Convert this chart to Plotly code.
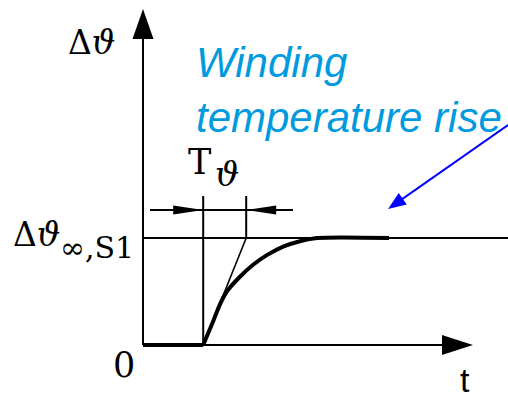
import plotly.graph_objects as go

# Heating curve of the winding after switching on (S1 duty):
# time in units of the thermal time constant T_theta,
# temperature rise in units of the final value.
t_on = 1.4
t_const = 1.0
rise_final = 1.0

time = [0.0, 1.40, 1.63, 1.79, 1.95, 2.26, 2.56, 2.88, 3.26, 3.65, 4.05, 5.72]
rise = [0.0, 0.00, 0.22, 0.38, 0.50, 0.64, 0.75, 0.84, 0.92, 0.97, 1.00, 1.00]

W, H = 508, 398
x_range = [-3.3256, 8.4884]
y_range = [-0.4953, 3.2243]
sx = W / (x_range[1] - x_range[0])   # px per time unit
sy = H / (y_range[1] - y_range[0])   # px per rise unit

BLACK = "#000000"
BLUE_TXT = "rgb(0,155,222)"
BLUE_ARROW = "rgb(0,0,255)"


def head(tx, ty, dx, dy, length, half):
    """Filled arrow head (SVG path in data units); (dx, dy) is the pointing
    direction in screen pixels (y down), length/half are in pixels."""
    n = (dx * dx + dy * dy) ** 0.5
    ux, uy = dx / n, dy / n
    bx, by = -ux * length, -uy * length
    px, py = -uy * half, ux * half
    pts = [(0, 0), (bx + px, by + py), (bx - px, by - py)]
    coords = [(tx + p[0] / sx, ty - p[1] / sy) for p in pts]
    return "M {} {} L {} {} L {} {} Z".format(*[c for xy in coords for c in xy])


fig = go.Figure()

# heating curve: flat part before switching on, then the exponential rise
k = time.index(t_on)
fig.add_trace(go.Scatter(x=time[:k + 1], y=rise[:k + 1], mode="lines",
                         line=dict(color=BLACK, width=4), hoverinfo="skip"))
fig.add_trace(go.Scatter(x=time[k:], y=rise[k:], mode="lines",
                         line=dict(color=BLACK, width=4, shape="spline", smoothing=0.8),
                         hoverinfo="skip"))

shapes = []
line_thin = dict(color=BLACK, width=2)
y_tip = 3.14
x_tip = 7.674
y_dim = 1.262
y_top = 1.393

# axes
shapes.append(dict(type="line", x0=0, y0=0, x1=0, y1=y_tip - 20 / sy, line=line_thin))
shapes.append(dict(type="line", x0=0, y0=0, x1=x_tip - 20 / sx, y1=0, line=line_thin))
shapes.append(dict(type="path", path=head(0, y_tip, 0, -1, 30, 10.5),
                   fillcolor=BLACK, line=dict(width=0)))
shapes.append(dict(type="path", path=head(x_tip, 0, 1, 0, 31, 10),
                   fillcolor=BLACK, line=dict(width=0)))

# final temperature rise level
shapes.append(dict(type="line", x0=0, y0=rise_final, x1=x_range[1], y1=rise_final,
                   line=line_thin))

# time constant construction: extension lines, tangent, dimension line
shapes.append(dict(type="line", x0=t_on, y0=0, x1=t_on, y1=y_top, line=line_thin))
shapes.append(dict(type="line", x0=t_on + t_const, y0=rise_final,
                   x1=t_on + t_const, y1=y_top, line=line_thin))
shapes.append(dict(type="line", x0=t_on, y0=0, x1=t_on + t_const, y1=rise_final,
                   line=dict(color=BLACK, width=1.6)))
shapes.append(dict(type="line", x0=0.163, y0=y_dim, x1=3.488, y1=y_dim, line=line_thin))
shapes.append(dict(type="path", path=head(t_on, y_dim, 1, 0, 30, 4.5),
                   fillcolor=BLACK, line=dict(width=0)))
shapes.append(dict(type="path", path=head(t_on + t_const, y_dim, -1, 0, 30, 4.5),
                   fillcolor=BLACK, line=dict(width=0)))

# pointer from the caption to the curve
ptr_tip = (5.698, 1.271)
ptr_tail = (8.488, 2.056)
dxp = (ptr_tip[0] - ptr_tail[0]) * sx
dyp = -(ptr_tip[1] - ptr_tail[1]) * sy
n = (dxp ** 2 + dyp ** 2) ** 0.5
shapes.append(dict(type="line", x0=ptr_tail[0], y0=ptr_tail[1],
                   x1=ptr_tip[0] - dxp / n * 12 / sx, y1=ptr_tip[1] + dyp / n * 12 / sy,
                   line=dict(color=BLUE_ARROW, width=2)))
shapes.append(dict(type="path", path=head(ptr_tip[0], ptr_tip[1], dxp, dyp, 18, 7),
                   fillcolor=BLUE_ARROW, line=dict(width=0)))

serif = "DejaVu Serif"
sans = "Liberation Sans"


def label(x, y, text, size, family=serif, color=BLACK, xa="center", ya="middle"):
    return dict(x=x, y=y, xref="x", yref="y", text=text, showarrow=False,
                xanchor=xa, yanchor=ya, font=dict(family=family, size=size, color=color))


t_label = label(7.49, -0.49, "t", 34, family=sans, ya="bottom")
t_label["yshift"] = -4

annotations = [
    label(-1.19, 2.83, "Δ<i>ϑ</i>", 33),
    label(-3.07, 1.03, "Δ<i>ϑ</i>", 33, xa="left"),
    label(-1.97, 0.91, "∞,S1", 30, xa="left"),
    label(1.62, 1.71, "T", 35, xa="right"),
    label(1.62, 1.60, "<i>ϑ</i>", 34, xa="left"),
    label(-0.44, -0.187, "0", 35),
    t_label,
    dict(x=1.19, y=2.88, xref="x", yref="y", text="<i>Winding<br>temperature rise</i>",
         showarrow=False, xanchor="left", yanchor="top", align="left",
         font=dict(family=sans, size=42, color=BLUE_TXT)),
]

fig.update_layout(
    width=W, height=H, margin=dict(l=0, r=0, t=0, b=0),
    paper_bgcolor="white", plot_bgcolor="white", showlegend=False,
    xaxis=dict(range=x_range, visible=False, fixedrange=True),
    yaxis=dict(range=y_range, visible=False, fixedrange=True),
    shapes=shapes, annotations=annotations,
)

fig.write_html("out.html")
